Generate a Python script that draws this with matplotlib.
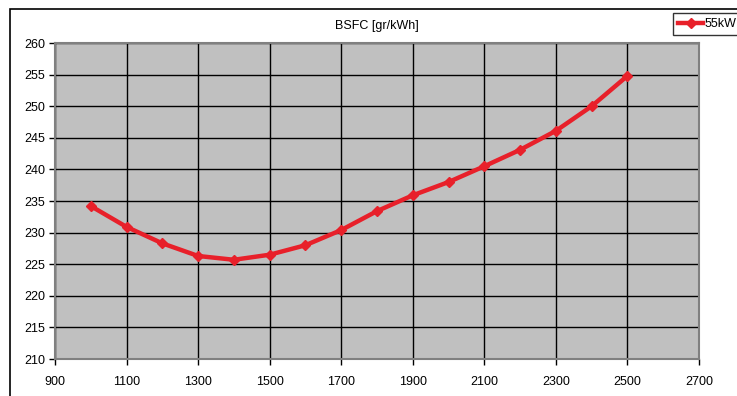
import matplotlib
matplotlib.use("Agg")
import matplotlib.pyplot as plt
from matplotlib.patches import Rectangle
from matplotlib.lines import Line2D

rpm = [1000, 1100, 1200, 1300, 1400, 1500, 1600, 1700, 1800, 1900, 2000, 2100, 2200, 2300, 2400, 2500]
bsfc = [234.2, 230.9, 228.3, 226.3, 225.7, 226.5, 228.0, 230.4, 233.4, 235.9, 238.0, 240.5, 243.1, 246.1, 250.0, 254.8]
series_label = "55kW"
title = "BSFC [gr/kWh]"
xticks = [900, 1100, 1300, 1500, 1700, 1900, 2100, 2300, 2500, 2700]
yticks = [210, 215, 220, 225, 230, 235, 240, 245, 250, 255, 260]

plt.rcParams['font.family'] = ['Liberation Sans', 'DejaVu Sans']
fs = 9

fig = plt.figure(figsize=(7.37, 3.96), dpi=100)
W, H = 737, 396
ax = fig.add_axes([55 / W, 1 - 359 / H, (699 - 55) / W, (359 - 43) / H])
ax.set_facecolor('#C0C0C0')

ax.plot(rpm, bsfc, color='#E8202A', lw=3.2, marker='D', ms=5, mfc='#E8202A', mec='#E8202A', zorder=3)

ax.set_xlim(900, 2700)
ax.set_ylim(210, 260)
ax.set_xticks(xticks)
ax.set_yticks(yticks)
ax.grid(True, color='black', lw=1.0)
ax.set_axisbelow(True)
for s in ax.spines.values():
    s.set_color('#808080')
    s.set_linewidth(1.5)
ax.tick_params(axis='both', labelsize=fs, colors='black', length=4, width=1)
ax.tick_params(axis='x', pad=8)
ax.tick_params(axis='y', pad=3)
ax.set_title(title, fontsize=fs, pad=10)

# outer chart border
fig.patches.append(Rectangle((10 / W, -0.05), 1.0, 1 - 9 / H + 0.05, transform=fig.transFigure,
                             fill=False, ec='black', lw=1.2))

# legend
leg_handle = Line2D([], [], color='#E8202A', lw=3.2, marker='D', ms=5)
leg = fig.legend([leg_handle], [series_label], loc='upper left', bbox_to_anchor=(673 / W, 1 - 13 / H),
                 frameon=True, fancybox=False, edgecolor='black', fontsize=fs, handlelength=2.0,
                 handletextpad=0.1, borderpad=0.4, borderaxespad=0)
leg.get_frame().set_linewidth(1.0)

fig.savefig('out.png', dpi=100)
